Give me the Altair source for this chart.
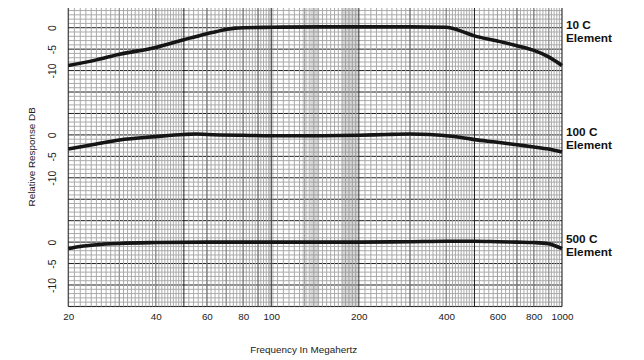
import altair as alt
import pandas as pd

# ---------------- data ----------------
element_names = ["10 C\nElement", "100 C\nElement", "500 C\nElement"]
panel_offsets_db = [0, -25, -50]          # each element is drawn on its own band of the shared dB axis

freq_10c = [20, 25, 30, 40, 50, 60, 70, 75, 80, 100, 150, 200, 300, 400, 450, 500, 600, 700, 800, 900, 1000]
db_10c = [-8.8, -7.5, -6.2, -4.6, -2.8, -1.4, -0.4, -0.1, 0.0, 0.1, 0.2, 0.2, 0.2, 0.1, -0.8, -1.9, -3.1, -4.2, -5.3, -6.8, -8.8]

freq_100c = [20, 25, 30, 40, 50, 55, 60, 80, 100, 150, 200, 250, 300, 350, 400, 450, 500, 600, 700, 800, 900, 1000]
db_100c = [-3.3, -2.1, -1.2, -0.4, 0.1, 0.2, 0.1, -0.1, -0.2, -0.2, -0.1, 0.1, 0.2, 0.1, -0.2, -0.6, -1.1, -1.7, -2.3, -2.8, -3.3, -4.0]

freq_500c = [20, 22, 25, 30, 40, 60, 100, 200, 300, 400, 500, 600, 700, 800, 900, 950, 1000]
db_500c = [-1.5, -1.0, -0.6, -0.3, -0.1, 0.0, 0.0, 0.0, 0.1, 0.2, 0.2, 0.1, 0.0, -0.1, -0.4, -0.9, -1.5]

x_label_values = [20, 40, 60, 80, 100, 200, 400, 600, 800, 1000]
y_label_values = [0, -5, -10]

# graph-paper rulings (MHz and dB)
x_major_lines = [20, 30, 40, 50, 60, 70, 80, 90, 100, 200, 300, 400, 500, 600, 700, 800, 900, 1000]
x_medium_lines = [110, 120, 130, 140, 150, 160, 170, 180, 190, 250, 350, 450]
x_minor_lines = (list(range(21, 50, 1)) + list(range(52, 100, 2)) + list(range(105, 200, 5))
                 + list(range(210, 500, 10)) + list(range(520, 1000, 20)))
y_major_lines = list(range(-65, 6, 5))
y_minor_lines = [v for v in range(-65, 6) if v % 5 != 0]
shade_band_lo = [98, 128, 136, 175]
shade_band_hi = [102, 133, 146, 200]

# ---------------- tables ----------------
rows = []
for name, off, fs, ds in zip(element_names, panel_offsets_db,
                             [freq_10c, freq_100c, freq_500c], [db_10c, db_100c, db_500c]):
    for f, d in zip(fs, ds):
        rows.append({"element": name, "freq": f, "db": d, "offset": off})
curves = pd.DataFrame(rows)

labels = pd.DataFrame({"element": element_names, "freq": [1000] * 3, "db": [0] * 3,
                       "offset": panel_offsets_db})
bands = pd.DataFrame({"lo": shade_band_lo, "hi": shade_band_hi})

vlines = pd.DataFrame(
    [{"freq": v, "level": "minor"} for v in x_minor_lines]
    + [{"freq": v, "level": "medium"} for v in x_medium_lines if v not in x_minor_lines]
    + [{"freq": v, "level": "major"} for v in x_major_lines]
)
hlines = pd.DataFrame(
    [{"ypos": v, "level": "minor"} for v in y_minor_lines]
    + [{"ypos": v, "level": "major"} for v in y_major_lines]
)

tick_positions = [v + o for o in panel_offsets_db for v in y_label_values]

x_scale = alt.Scale(type="log", domain=[20, 1000], nice=False)
y_scale = alt.Scale(domain=[-65, 5], nice=False, zero=False)
level_color = alt.Scale(domain=["minor", "medium", "major"], range=["#a9a9a9", "#6a6a6a", "#1a1a1a"])
level_width = alt.Scale(domain=["minor", "medium", "major"], range=[1, 1, 1.4])

x_axis = alt.Axis(
    values=x_label_values, labelExpr="'' + datum.value",
    labelOverlap=False, labelFlush=False, labelBound=False,
    ticks=False, domain=False, grid=False, labelPadding=5,
    labelFontSize=10, labelColor="#222", labelFont="Liberation Sans",
    title="Frequency In Megahertz", titleFontSize=10, titleFontWeight="normal",
    titleFont="Liberation Sans", titleColor="#222",
    titleX=238, titleY=44, titleBaseline="middle", titleAlign="center",
)

y_axis = alt.Axis(
    values=tick_positions,
    labelExpr=("'' + (datum.value > -20 ? datum.value : "
               "(datum.value > -45 ? datum.value + 25 : datum.value + 50))"),
    labelOverlap=False, labelBound=False, labelFlush=False, labelSeparation=0,
    labelAngle=270, ticks=False, domain=False, grid=False, labelPadding=11,
    labelFontSize=10.5, labelColor="#222", labelFont="Liberation Sans",
    title="Relative Response DB", titleFontSize=10, titleFontWeight="normal",
    titleFont="Liberation Sans", titleColor="#222",
    titleX=-37, titleY=152, titleBaseline="middle", titleAlign="center", titleAngle=270,
)

x_enc = alt.X("freq:Q", scale=x_scale, axis=x_axis)
y_enc = alt.Y("ypos:Q", scale=y_scale, axis=y_axis)

grid_v = alt.Chart(vlines).mark_rule().encode(
    x=x_enc,
    color=alt.Color("level:N", scale=level_color, legend=None),
    strokeWidth=alt.StrokeWidth("level:N", scale=level_width, legend=None),
    order=alt.Order("level:N"),
)

grid_h = alt.Chart(hlines).mark_rule().encode(
    y=y_enc,
    color=alt.Color("level:N", scale=level_color, legend=None),
    strokeWidth=alt.StrokeWidth("level:N", scale=level_width, legend=None),
)

shade = alt.Chart(bands).mark_rect(color="#8c8c8c", opacity=0.35).encode(
    x=alt.X("lo:Q", scale=x_scale, axis=x_axis), x2="hi:Q"
)

lines = alt.Chart(curves).transform_calculate(
    ypos="datum.db + datum.offset"
).mark_line(color="#151515", strokeWidth=3.6, interpolate="monotone").encode(
    x=x_enc, y=y_enc, detail="element:N",
)

texts = alt.Chart(labels).transform_calculate(
    ypos="datum.db + datum.offset"
).mark_text(align="left", baseline="top", dx=4, dy=-8, fontSize=12, fontWeight="bold",
            font="Liberation Sans", lineBreak="\n", lineHeight=13, color="#111").encode(
    x=x_enc, y=y_enc, text="element:N"
)

chart = alt.layer(grid_h, grid_v, shade, lines, texts).properties(
    width=500, height=304,
    autosize=alt.AutoSizeParams(type="none"),
    padding={"left": 61, "top": -4, "right": 75, "bottom": 52},
).configure_view(stroke="#bdbdbd", strokeWidth=1).configure_axisY(
    labelOverlap=False
).configure(background="white")

chart.save("out.html", embed_options={"renderer": "svg", "actions": False})
